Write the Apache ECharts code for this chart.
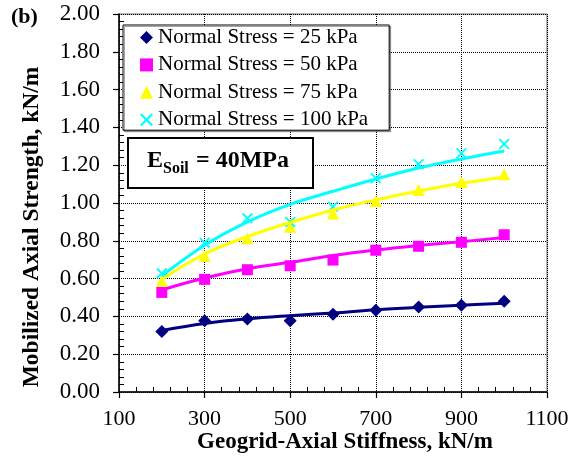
<!DOCTYPE html>
<html>
<head>
<meta charset="utf-8">
<script src="https://cdn.jsdelivr.net/npm/echarts@6/dist/echarts.min.js"></script>
<style>html,body{margin:0;padding:0;background:#fff}#c{width:583px;height:459px}</style>
</head>
<body>
<div id="c"></div>
<script>
// ---- data ----
var stiffness = [200, 300, 400, 500, 600, 700, 800, 900, 1000];
var names = ['Normal Stress = 25 kPa', 'Normal Stress = 50 kPa', 'Normal Stress = 75 kPa', 'Normal Stress = 100 kPa'];
var s25  = [0.320, 0.377, 0.386, 0.377, 0.411, 0.432, 0.450, 0.459, 0.480];
var s50  = [0.527, 0.596, 0.647, 0.668, 0.698, 0.750, 0.771, 0.792, 0.832];
var s75  = [0.589, 0.720, 0.813, 0.875, 0.945, 1.011, 1.069, 1.111, 1.152];
var s100 = [0.628, 0.790, 0.919, 0.900, 0.980, 1.131, 1.205, 1.263, 1.312];
// trend lines
var t25  = [0.325, 0.362, 0.387, 0.404, 0.418, 0.435, 0.448, 0.459, 0.469];
var t50  = [0.540, 0.603, 0.652, 0.686, 0.722, 0.751, 0.775, 0.795, 0.818];
var t75  = [0.596, 0.730, 0.822, 0.897, 0.963, 1.016, 1.063, 1.104, 1.136];
var t100 = [0.614, 0.776, 0.900, 0.993, 1.062, 1.127, 1.185, 1.233, 1.275];
var xTicks = [100, 300, 500, 700, 900, 1100];
var yTicks = [0.00, 0.20, 0.40, 0.60, 0.80, 1.00, 1.20, 1.40, 1.60, 1.80, 2.00];
var colors = ['#000080', '#FF00FF', '#FFFF00', '#00FFFF'];
var symbols = ['diamond', 'rect', 'triangle', 'path://M0,1.2L1.2,0L10,8.8L8.8,10ZM8.8,0L10,1.2L1.2,10L0,8.8Z'];
var symSizes = [13, 11, 12, 11];

function pairs(xs, ys) { return xs.map(function (x, i) { return [x, ys[i]]; }); }
var marks = [s25, s50, s75, s100];
var trends = [t25, t50, t75, t100];

var FONT = '"Liberation Serif", "Times New Roman", serif';
var series = [];
marks.forEach(function (d, i) {
  series.push({
    name: names[i], type: 'scatter', xAxisIndex: 0, yAxisIndex: 0,
    data: pairs(stiffness, d), symbol: symbols[i], symbolSize: symSizes[i],
    itemStyle: { color: colors[i], opacity: 1 }, z: 2, silent: true
  });
});
trends.forEach(function (d, i) {
  series.push({
    name: 'trend' + i, type: 'line', xAxisIndex: 0, yAxisIndex: 0,
    data: pairs(stiffness, d), smooth: 0.4, showSymbol: false, symbol: 'none',
    lineStyle: { color: colors[i], width: 3 }, z: 3, silent: true
  });
});

var xMin = xTicks[0], xMax = xTicks[xTicks.length - 1], xInt = xTicks[1] - xTicks[0];
var yMin = yTicks[0], yMax = yTicks[yTicks.length - 1], yInt = 0.2;

var chart = echarts.init(document.getElementById('c'), null, { renderer: 'canvas' });
chart.setOption({
  animation: false,
  backgroundColor: '#fff',
  grid: { left: 119, right: 36, top: 14, bottom: 67, show: true, borderColor: '#666', borderWidth: 1, backgroundColor: 'transparent' },
  legend: {
    data: names, orient: 'vertical', left: 123, top: 25,
    itemWidth: 13, itemHeight: 13, itemGap: 6.4, itemTextGap: 4,
    padding: [2, 21, 0, 17],
    backgroundColor: '#fff', borderColor: '#000', borderWidth: 1,
    shadowColor: 'rgba(0,0,0,0.35)', shadowOffsetX: 1.5, shadowOffsetY: 1.5, shadowBlur: 0,
    textStyle: { fontFamily: FONT, fontSize: 21, color: '#000' },
    selectedMode: false, z: 10
  },
  xAxis: [{
    type: 'value', min: xMin, max: xMax, interval: xInt,
    axisLine: { show: true, onZero: false, lineStyle: { color: '#000', width: 1.5 } },
    axisTick: { show: true, length: 6, lineStyle: { color: '#000', width: 1.2 } },
    axisLabel: { fontFamily: FONT, fontSize: 22, color: '#000', margin: 16, formatter: function (v) { return String(v); } },
    splitLine: { show: true, lineStyle: { color: '#000', type: 'dotted', width: 1 } }
  }, {
    type: 'value', min: xMin, max: xMax, interval: xInt, position: 'bottom',
    axisLine: { show: false }, axisLabel: { show: false }, splitLine: { show: false },
    axisTick: { show: false, inside: true },
    minorTick: { show: true, splitNumber: 5, length: 5, lineStyle: { color: '#000', width: 1 } }
  }],
  yAxis: [{
    type: 'value', min: yMin, max: yMax, interval: yInt,
    axisLine: { show: true, onZero: false, lineStyle: { color: '#000', width: 1.5 } },
    axisTick: { show: true, length: 6, lineStyle: { color: '#000', width: 1.2 } },
    axisLabel: { fontFamily: FONT, fontSize: 23, color: '#000', margin: 19, formatter: function (v) { return v.toFixed(2); } },
    splitLine: { show: true, lineStyle: { color: '#000', type: 'dotted', width: 1 } }
  }, {
    type: 'value', min: yMin, max: yMax, interval: yInt, position: 'left',
    axisLine: { show: false }, axisLabel: { show: false }, splitLine: { show: false },
    axisTick: { show: false, inside: true },
    minorTick: { show: true, splitNumber: 5, length: 5, lineStyle: { color: '#000', width: 1 } }
  }],
  graphic: [
    { type: 'text', left: 11, top: 6, style: { text: '(b)', font: 'bold 22px ' + FONT, fill: '#000' } },
    { type: 'text', x: 32, y: 227, rotation: Math.PI / 2, style: { text: 'Mobilized Axial Strength, kN/m', font: 'bold 23.5px ' + FONT, fill: '#000', align: 'center', verticalAlign: 'middle' } },
    { type: 'text', x: 345, y: 442, style: { text: 'Geogrid-Axial Stiffness, kN/m', font: 'bold 23px ' + FONT, fill: '#000', align: 'center', verticalAlign: 'middle' } },
    { type: 'rect', shape: { x: 128, y: 138, width: 185, height: 50 }, style: { fill: '#fff', stroke: '#000', lineWidth: 2 }, z: 10 },
    { type: 'text', x: 147, y: 161, style: { text: 'E', font: 'bold 24px ' + FONT, fill: '#000', verticalAlign: 'middle' }, z: 11 },
    { type: 'text', x: 163, y: 168.6, style: { text: 'Soil', font: 'bold 16px ' + FONT, fill: '#000', verticalAlign: 'middle' }, z: 11 },
    { type: 'text', x: 196, y: 161, style: { text: '= 40MPa', font: 'bold 24px ' + FONT, fill: '#000', verticalAlign: 'middle' }, z: 11 }
  ],
  series: series
});
</script>
</body>
</html>
